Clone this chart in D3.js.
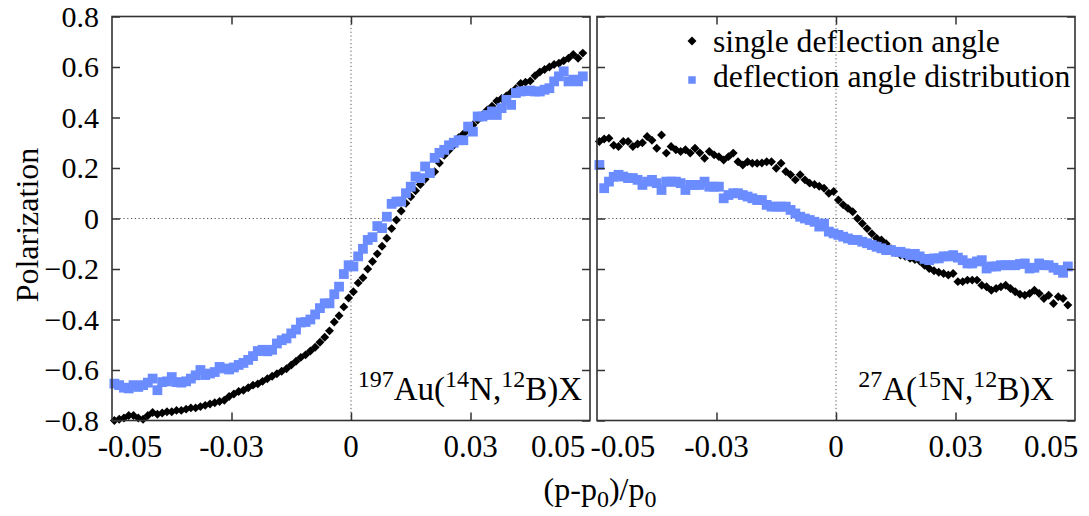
<!DOCTYPE html>
<html>
<head>
<meta charset="utf-8">
<script src="https://cdn.jsdelivr.net/npm/d3@7"></script>
<style>
  body { margin: 0; background: #fff; }
  svg text { font-family: 'Liberation Serif', 'Times New Roman', serif; fill: #000; }
</style>
</head>
<body>
<script>
// momentum bins (p-p0)/p0
const xBins = [-0.0594,-0.0582,-0.0570,-0.0558,-0.0546,-0.0534,-0.0522,-0.0510,-0.0498,-0.0486,
  -0.0474,-0.0462,-0.0450,-0.0438,-0.0426,-0.0414,-0.0402,-0.0390,-0.0378,-0.0366,
  -0.0354,-0.0342,-0.0330,-0.0318,-0.0306,-0.0294,-0.0282,-0.0270,-0.0258,-0.0246,
  -0.0234,-0.0222,-0.0210,-0.0198,-0.0186,-0.0174,-0.0162,-0.0150,-0.0138,-0.0126,
  -0.0114,-0.0102,-0.0090,-0.0078,-0.0066,-0.0054,-0.0042,-0.0030,-0.0018,-0.0006,
  0.0006,0.0018,0.0030,0.0042,0.0054,0.0066,0.0078,0.0090,0.0102,0.0114,
  0.0126,0.0138,0.0150,0.0162,0.0174,0.0186,0.0198,0.0210,0.0222,0.0234,
  0.0246,0.0258,0.0270,0.0282,0.0294,0.0306,0.0318,0.0330,0.0342,0.0354,
  0.0366,0.0378,0.0390,0.0402,0.0414,0.0426,0.0438,0.0450,0.0462,0.0474,
  0.0486,0.0498,0.0510,0.0522,0.0534,0.0546,0.0558,0.0570,0.0582]

// 197Au(14N,12B)X
const auSingle = [-0.800,-0.795,-0.790,-0.780,-0.780,-0.790,-0.795,-0.780,-0.768,-0.775,
  -0.770,-0.765,-0.765,-0.760,-0.760,-0.755,-0.750,-0.750,-0.745,-0.740,
  -0.735,-0.730,-0.725,-0.720,-0.705,-0.695,-0.685,-0.680,-0.670,-0.660,
  -0.655,-0.645,-0.635,-0.625,-0.615,-0.605,-0.595,-0.580,-0.565,-0.550,
  -0.540,-0.525,-0.510,-0.490,-0.470,-0.445,-0.410,-0.385,-0.350,-0.315,
  -0.290,-0.255,-0.235,-0.200,-0.170,-0.140,-0.110,-0.078,-0.040,-0.006,
  0.030,0.060,0.086,0.110,0.135,0.155,0.180,0.185,0.220,0.250,
  0.270,0.290,0.320,0.335,0.350,0.370,0.390,0.410,0.430,0.445,
  0.465,0.475,0.485,0.500,0.515,0.535,0.540,0.545,0.565,0.580,
  0.590,0.600,0.610,0.615,0.625,0.635,0.650,0.635,0.655]
const auDist = [-0.654,-0.660,-0.670,-0.673,-0.660,-0.667,-0.660,-0.650,-0.634,-0.680,
  -0.648,-0.645,-0.628,-0.648,-0.650,-0.645,-0.634,-0.621,-0.600,-0.620,
  -0.614,-0.608,-0.588,-0.594,-0.598,-0.590,-0.580,-0.572,-0.560,-0.545,
  -0.525,-0.520,-0.526,-0.520,-0.495,-0.482,-0.475,-0.455,-0.440,-0.412,
  -0.410,-0.400,-0.380,-0.355,-0.336,-0.336,-0.300,-0.270,-0.220,-0.185,
  -0.190,-0.150,-0.120,-0.085,-0.074,-0.030,-0.038,0.007,0.058,0.067,
  0.067,0.100,0.126,0.166,0.160,0.206,0.180,0.240,0.260,0.272,
  0.290,0.300,0.310,0.310,0.364,0.344,0.404,0.404,0.410,0.424,
  0.410,0.437,0.470,0.450,0.497,0.503,0.505,0.507,0.503,0.503,
  0.510,0.516,0.543,0.563,0.583,0.543,0.550,0.543,0.563]

// 27A(15N,12B)X
const alSingle = [0.305,0.315,0.318,0.290,0.285,0.305,0.305,0.285,0.295,0.300,
  0.325,0.310,0.278,0.331,0.259,0.285,0.272,0.265,0.272,0.259,
  0.278,0.260,0.239,0.265,0.252,0.245,0.232,0.245,0.259,0.225,
  0.212,0.225,0.219,0.219,0.220,0.225,0.225,0.199,0.219,0.186,
  0.173,0.153,0.173,0.153,0.140,0.135,0.128,0.120,0.100,0.107,
  0.073,0.054,0.040,0.027,0.000,-0.020,-0.040,-0.060,-0.078,-0.085,
  -0.100,-0.120,-0.135,-0.145,-0.150,-0.158,-0.162,-0.168,-0.185,-0.198,
  -0.207,-0.213,-0.218,-0.224,-0.218,-0.250,-0.250,-0.244,-0.244,-0.244,
  -0.264,-0.270,-0.284,-0.277,-0.270,-0.264,-0.277,-0.290,-0.300,-0.304,
  -0.297,-0.284,-0.297,-0.317,-0.304,-0.337,-0.310,-0.317,-0.343]
const alDist = [0.212,0.120,0.146,0.165,0.173,0.166,0.160,0.160,0.153,0.133,
  0.146,0.153,0.140,0.113,0.146,0.146,0.146,0.140,0.113,0.133,
  0.133,0.133,0.146,0.126,0.126,0.126,0.080,0.093,0.100,0.100,
  0.093,0.087,0.080,0.073,0.073,0.054,0.047,0.047,0.047,0.047,
  0.034,0.020,0.007,0.000,-0.006,-0.013,-0.032,-0.020,-0.052,-0.059,
  -0.065,-0.072,-0.079,-0.085,-0.085,-0.092,-0.098,-0.105,-0.112,-0.118,
  -0.125,-0.125,-0.132,-0.132,-0.138,-0.145,-0.140,-0.150,-0.160,-0.165,
  -0.158,-0.158,-0.150,-0.150,-0.145,-0.155,-0.165,-0.178,-0.178,-0.170,
  -0.165,-0.198,-0.190,-0.190,-0.185,-0.185,-0.185,-0.185,-0.180,-0.178,
  -0.198,-0.195,-0.178,-0.185,-0.185,-0.195,-0.204,-0.215,-0.190]

const yTicks = [-0.8, -0.6, -0.4, -0.2, 0, 0.2, 0.4, 0.6, 0.8]
const xTicks = [-0.03, 0, 0.03]
const xLabels = ['-0.05', '-0.03', '0', '0.03', '0.05']
const seriesNames = ['single deflection angle', 'deflection angle distribution']

const blue = '#6a8cff'
const frameColor = '#333'
const serif = "'Liberation Serif', 'Times New Roman', serif"

const W = 1089, H = 516
const svg = d3.select('body').append('svg').attr('width', W).attr('height', H)

const y = d3.scaleLinear().domain([-0.8, 0.8]).range([420.5, 16.5])

const panels = [
  { x0: 112, x1: 590, single: auSingle, dist: auDist, target: '197', tgt: 'Au', proj: '14', lblRight: 582,
    labelAt: [-0.0555, -0.03, 0, 0.03, 0.052] },
  { x0: 597, x1: 1075, single: alSingle, dist: alDist, target: '27', tgt: 'A', proj: '15', lblRight: 1054,
    labelAt: [-0.0535, -0.03, 0, 0.03, 0.054] }
]

const diamond = d3.symbol().type(d3.symbolSquare).size(40)
const square = d3.symbol().type(d3.symbolSquare).size(96)

panels.forEach((p, pi) => {
  const x = d3.scaleLinear().domain([-0.06, 0.06]).range([p.x0, p.x1])
  const g = svg.append('g')

  // dotted zero lines
  g.append('line')
    .attr('x1', x(-0.06)).attr('x2', x(0.06)).attr('y1', y(0)).attr('y2', y(0))
    .attr('stroke', '#555').attr('stroke-width', 1).attr('stroke-dasharray', '1.2,2.6')
  g.append('line')
    .attr('x1', x(0)).attr('x2', x(0)).attr('y1', y(-0.8)).attr('y2', y(0.8))
    .attr('stroke', '#555').attr('stroke-width', 1).attr('stroke-dasharray', '1.2,2.6')

  // points
  g.selectAll('path.single')
    .data(p.single)
    .enter().append('path')
      .attr('class', 'single')
      .attr('d', diamond)
      .attr('transform', (d, i) => 'translate(' + x(xBins[i]) + ',' + y(d) + ') rotate(45)')
      .attr('fill', '#000')

  g.selectAll('path.dist')
    .data(p.dist)
    .enter().append('path')
      .attr('class', 'dist')
      .attr('d', square)
      .attr('transform', (d, i) => 'translate(' + x(xBins[i]) + ',' + y(d) + ')')
      .attr('fill', blue)

  // axes: ticks inward on all four sides
  const tl = 8
  g.append('g').attr('transform', 'translate(0,' + y(-0.8) + ')')
    .call(d3.axisBottom(x).tickValues(xTicks).tickSize(-tl).tickFormat(''))
  g.append('g').attr('transform', 'translate(0,' + y(0.8) + ')')
    .call(d3.axisTop(x).tickValues(xTicks).tickSize(-tl).tickFormat(''))
  g.append('g').attr('transform', 'translate(' + p.x0 + ',0)')
    .call(d3.axisLeft(y).tickValues(yTicks).tickSize(-tl).tickFormat(''))
  g.append('g').attr('transform', 'translate(' + p.x1 + ',0)')
    .call(d3.axisRight(y).tickValues(yTicks).tickSize(-tl).tickFormat(''))
  g.selectAll('.domain').remove()
  g.selectAll('.tick line').attr('stroke', frameColor).attr('stroke-width', 1.5)

  // frame
  g.append('rect')
    .attr('x', p.x0).attr('y', y(0.8))
    .attr('width', p.x1 - p.x0).attr('height', y(-0.8) - y(0.8))
    .attr('fill', 'none').attr('stroke', frameColor).attr('stroke-width', 1.6)

  // x tick labels
  g.selectAll('text.xl')
    .data(p.labelAt)
    .enter().append('text')
      .attr('class', 'xl')
      .attr('x', (d) => x(d))
      .attr('y', 457)
      .attr('text-anchor', 'middle')
      .style('font-family', serif)
      .style('font-size', '31px')
      .text((d, i) => xLabels[i])

  // reaction label
  const lbl = g.append('text')
    .attr('x', p.lblRight).attr('y', 400)
    .attr('text-anchor', 'end')
    .style('font-family', serif)
    .style('font-size', '33px')
  lbl.append('tspan').attr('dy', -13).style('font-size', '24px').text(p.target)
  lbl.append('tspan').attr('dy', 13).text(p.tgt + '(')
  lbl.append('tspan').attr('dy', -13).style('font-size', '24px').text(p.proj)
  lbl.append('tspan').attr('dy', 13).text('N,')
  lbl.append('tspan').attr('dy', -13).style('font-size', '24px').text('12')
  lbl.append('tspan').attr('dy', 13).text('B)X')

  if (pi === 0) {
    svg.selectAll('text.yl')
      .data(yTicks)
      .enter().append('text')
        .attr('class', 'yl')
        .attr('x', 99)
        .attr('y', (d) => y(d) + 10)
        .attr('text-anchor', 'end')
        .style('font-family', serif)
        .style('font-size', '30px')
        .text((d) => d === 0 ? '0' : d3.format('.1f')(d))
  }

  if (pi === 1) {
    // legend
    const lg = svg.append('g')
    lg.append('path').attr('d', d3.symbol().type(d3.symbolSquare).size(40))
      .attr('transform', 'translate(692,41) rotate(45)').attr('fill', '#000')
    lg.append('path').attr('d', d3.symbol().type(d3.symbolSquare).size(56))
      .attr('transform', 'translate(692,80)').attr('fill', blue)
    lg.selectAll('text')
      .data(seriesNames)
      .enter().append('text')
        .attr('x', 713)
        .attr('y', (d, i) => 52 + i * 35)
        .style('font-family', serif)
        .style('font-size', '31.7px')
        .text((d) => d)
  }
})

// axis titles
svg.append('text')
  .attr('transform', 'translate(38,225) rotate(-90)')
  .attr('text-anchor', 'middle')
  .style('font-family', serif)
  .style('font-size', '32px')
  .text('Polarization')

const xt = svg.append('text')
  .attr('x', 600).attr('y', 500)
  .attr('text-anchor', 'middle')
  .style('font-family', serif)
  .style('font-size', '32px')
xt.append('tspan').text('(p-p')
xt.append('tspan').attr('dy', 7).style('font-size', '24px').text('0')
xt.append('tspan').attr('dy', -7).text(')/p')
xt.append('tspan').attr('dy', 7).style('font-size', '24px').text('0')
</script>
</body>
</html>
